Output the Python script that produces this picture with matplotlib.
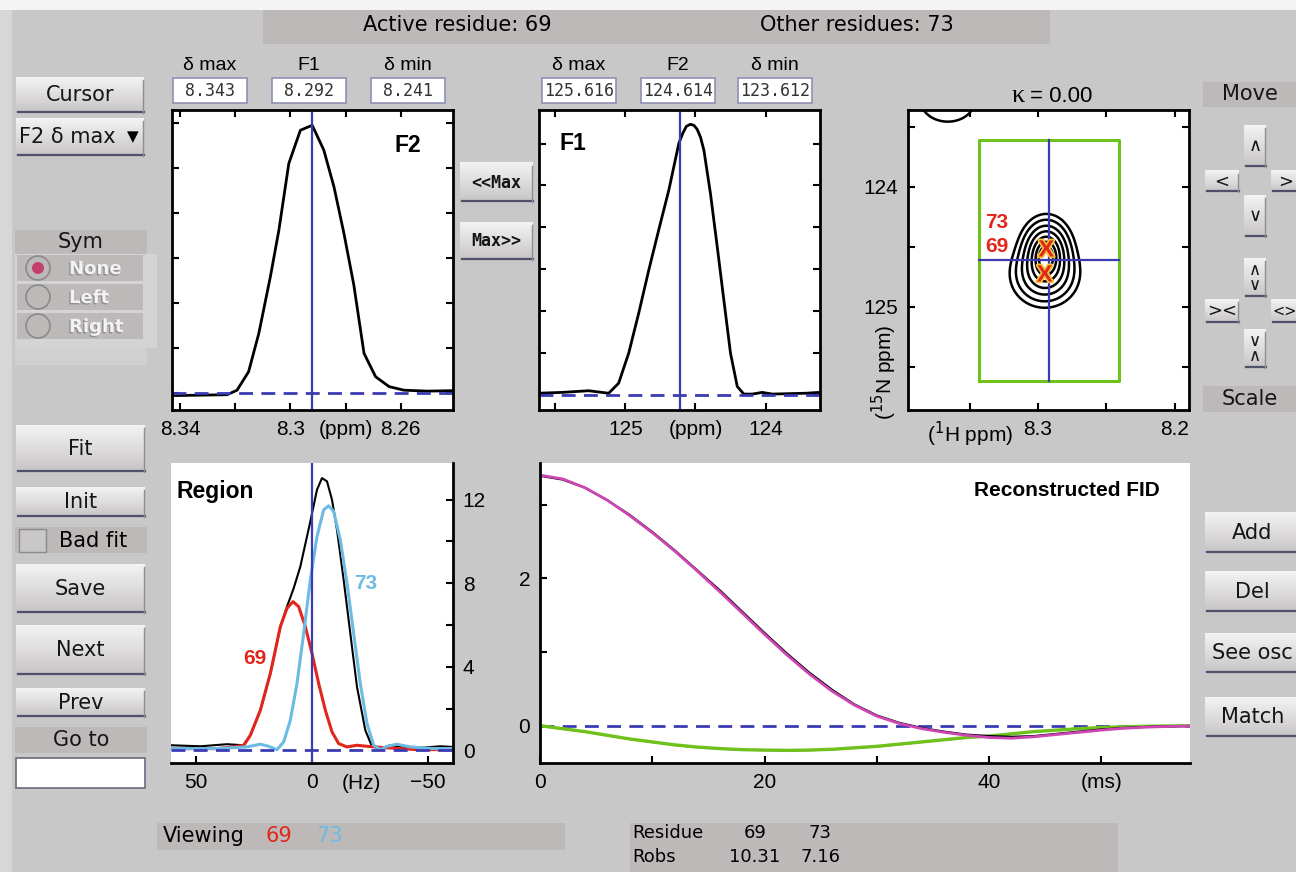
import numpy as np
import matplotlib
matplotlib.use("Agg")
import matplotlib.pyplot as plt
from matplotlib.patches import Rectangle, Circle
from matplotlib.colors import LinearSegmentedColormap
import matplotlib.patheffects as pe

plt.rcParams["font.family"] = ["Liberation Sans", "DejaVu Sans"]

W, H = 1296, 872
BG = "#c8c8c8"
LBL = "#bdb9b8"
BLUE = "#3b3bb3"
RED = "#e2261b"
CYAN = "#6cbbe3"
MAG = "#cf45b4"
LIME = "#6fc21c"
GUI = "DejaVu Sans"

# %% values
active_res = 69
other_res = 73
h_box = [8.343, 8.292, 8.241]        # delta max / cursor / delta min (1H ppm)
n_box = [125.616, 124.614, 123.612]  # delta max / cursor / delta min (15N ppm)
kappa = 0.00
robs = [10.31, 7.16]

# F2 slice (1H), coarse digital points
f2_ppm = [8.3429, 8.3230, 8.3194, 8.3152, 8.3115, 8.3073, 8.3042, 8.3006, 8.2964, 8.2921,
          8.2879, 8.2842, 8.2806, 8.2770, 8.2733, 8.2691, 8.2642, 8.2588, 8.2503, 8.2409]
f2_int = [-0.05, -0.03, 0.07, 0.48, 1.33, 2.59, 3.63, 5.11, 5.85, 5.96,
          5.41, 4.59, 3.56, 2.41, 0.89, 0.37, 0.15, 0.07, 0.05, 0.06]

# F1 slice (15N)
f1_ppm = [125.624, 125.452, 125.262, 125.119, 125.048, 124.976, 124.905, 124.833, 124.762,
          124.690, 124.619, 124.590, 124.565, 124.536, 124.510, 124.488, 124.464, 124.440,
          124.393, 124.345, 124.298, 124.250, 124.202, 124.155, 124.095, 124.024, 123.952,
          123.833, 123.714, 123.619]
f1_int = [0.04, 0.06, 0.10, 0.04, 0.28, 1.00, 1.95, 2.98, 3.94,
          4.89, 6.00, 6.25, 6.41, 6.46, 6.43, 6.34, 6.15, 5.84,
          4.80, 3.54, 2.27, 0.99, 0.20, 0.02, 0.02, 0.06, 0.02,
          0.03, 0.04, 0.06]

# 2D peaks (residue, 1H, 15N, height, width 1H, width 15N)
peak_res = [73, 69, None]
peak_h = [8.2939, 8.2951, 8.366]
peak_n = [124.528, 124.736, 123.275]
peak_amp = [10.0, 6.5, 2.35]
peak_wh = [0.0095, 0.013, 0.0153]
peak_wn = [0.14, 0.14, 0.14]
contour_levels = [1.0, 2.0, 3.6, 5.6, 7.8, 9.8, 11.3]

# Region panel (Hz)
reg_hz = [60.78, 48.13, 36.64, 29.45, 26.58, 22.27, 17.96, 13.65, 10.78, 7.90, 5.03, 0.72,
          -2.16, -4.31, -6.47, -8.62, -10.78, -13.65, -16.52, -19.40, -22.99, -25.86,
          -29.45, -33.76, -39.51, -48.13, -55.32, -60.78]
reg_sum = [0.24, 0.19, 0.29, 0.24, 0.72, 1.92, 3.68, 5.92, 6.88, 7.76, 8.80, 10.96,
           12.48, 13.04, 12.88, 12.00, 10.56, 8.16, 5.60, 3.04, 0.96, 0.19,
           0.08, 0.24, 0.13, 0.13, 0.19, 0.16]
reg69_hz = [60.78, 40.95, 33.76, 29.45, 26.58, 22.27, 17.96, 13.65, 10.78, 8.19, 5.75, 2.87,
            0.0, -2.87, -5.75, -8.62, -11.49, -15.09, -19.40, -23.71, -30.89, -45.26, -60.78]
reg69 = [0.08, 0.08, 0.16, 0.24, 0.72, 1.92, 3.68, 5.92, 6.80, 7.12, 6.88, 5.92,
         4.64, 3.20, 1.92, 0.88, 0.32, 0.16, 0.24, 0.19, 0.13, 0.03, 0.03]
reg73_hz = [60.78, 40.95, 28.02, 22.27, 18.68, 15.09, 12.21, 9.34, 6.47, 3.59, 0.72, -2.16,
            -5.03, -7.18, -9.34, -12.21, -15.09, -17.96, -20.83, -23.71, -26.58, -29.45,
            -32.33, -36.64, -42.39, -52.44, -60.78]
reg73 = [0.08, 0.08, 0.16, 0.29, 0.19, 0.03, 0.40, 1.44, 3.20, 5.60, 8.16, 10.24,
         11.52, 11.71, 11.44, 10.08, 8.00, 5.60, 3.20, 1.28, 0.24, 0.03,
         0.19, 0.29, 0.16, 0.08, 0.08]

# Reconstructed FID (ms)
fid_ms = [0, 2, 4, 6, 8, 10, 12, 14, 16, 18, 20, 22, 24, 26, 28, 30, 32, 34, 36, 38,
          40, 42, 44, 46, 48, 50, 52, 54, 56, 58]
fid_re_obs = [3.39, 3.34, 3.23, 3.06, 2.86, 2.63, 2.38, 2.11, 1.84, 1.55, 1.26, 0.98,
              0.72, 0.49, 0.29, 0.14, 0.04, -0.03, -0.08, -0.12, -0.14, -0.15, -0.14,
              -0.11, -0.08, -0.05, -0.03, -0.015, -0.008, -0.003]
fid_re_fit = [3.40, 3.35, 3.23, 3.06, 2.85, 2.62, 2.37, 2.10, 1.82, 1.53, 1.24, 0.96,
              0.70, 0.47, 0.28, 0.13, 0.03, -0.04, -0.09, -0.13, -0.16, -0.17, -0.15,
              -0.12, -0.09, -0.06, -0.035, -0.02, -0.01, -0.005]
fid_im_obs = [0.0, -0.045, -0.085, -0.135, -0.185, -0.225, -0.265, -0.295, -0.315, -0.33,
              -0.335, -0.34, -0.335, -0.325, -0.305, -0.285, -0.255, -0.225, -0.195, -0.165,
              -0.14, -0.11, -0.08, -0.06, -0.04, -0.025, -0.015, -0.008, -0.003, 0.0]
fid_im_fit = [0.0, -0.04, -0.08, -0.13, -0.18, -0.22, -0.26, -0.29, -0.31, -0.325,
              -0.33, -0.335, -0.33, -0.32, -0.30, -0.28, -0.25, -0.22, -0.19, -0.16,
              -0.14, -0.11, -0.08, -0.06, -0.04, -0.025, -0.015, -0.008, -0.003, 0.0]


# %% canvas + GUI helpers
fig = plt.figure(figsize=(W / 100, H / 100), dpi=100, facecolor=BG)
ui = fig.add_axes([0, 0, 1, 1], zorder=0)
ui.axis("off")

grad = np.linspace(0, 1, 32).reshape(-1, 1)
btn_cmap = LinearSegmentedColormap.from_list("btn", ["#f3f3f3", "#dedcdc", "#c6c4c4"])


def px_axes(x0, y0, x1, y1):
    return fig.add_axes([x0 / W, 1 - y1 / H, (x1 - x0) / W, (y1 - y0) / H], zorder=2)


def box(x0, y0, x1, y1, fc, ec="none", lw=0, z=1):
    ui.add_patch(Rectangle((x0, y0), x1 - x0, y1 - y0, fc=fc, ec=ec, lw=lw, zorder=z))


def button(x0, y0, x1, y1, label, size=15, family=GUI, weight="normal", ha="center", tx=None):
    ui.imshow(grad, extent=(x0, x1, y1, y0), cmap=btn_cmap, aspect="auto",
              interpolation="bilinear", zorder=2)
    ui.plot([x0 + 2, x1], [y1 - 1, y1 - 1], color="#50506a", lw=1.6, zorder=3)
    ui.plot([x1 - 1, x1 - 1], [y0 + 3, y1], color="#8e8e94", lw=1.0, zorder=3)
    if tx is None:
        tx = (x0 + x1) / 2 if ha == "center" else x0 + 3
    ui.text(tx, (y0 + y1) / 2, label, ha=ha, va="center", fontsize=size,
            family=family, weight=weight, color="#151515", zorder=4, linespacing=0.75)


def label_box(x0, y0, x1, y1, label, size=15):
    box(x0, y0, x1, y1, LBL)
    ui.text((x0 + x1) / 2, (y0 + y1) / 2, label, ha="center", va="center",
            fontsize=size, family=GUI, color="#151515", zorder=4)


def value_box(xc, label, value):
    ui.text(xc, 66, label, ha="center", va="center", fontsize=14, zorder=4)
    box(xc - 37, 78, xc + 37, 103, "white", ec="#8f8fb4", lw=1.2)
    ui.text(xc, 91, f"{value:.3f}", ha="center", va="center", fontsize=12,
            family="DejaVu Sans Mono", color="#333333", zorder=4)


# frame strips
box(0, 0, W, 10, "#f4f4f4")
box(0, 10, 12, H, "#d6d8d7")

# status bar
box(263, 10, 1050, 44, LBL)
ui.text(457, 25, f"Active residue: {active_res}", ha="center", va="center", fontsize=15, family=GUI)
ui.text(857, 25, f"Other residues: {other_res}", ha="center", va="center", fontsize=15, family=GUI)

# value boxes
for xc, lab, v in zip([210, 309, 408], ["δ max", "F1", "δ min"], h_box):
    value_box(xc, lab, v)
for xc, lab, v in zip([579, 678, 775], ["δ max", "F2", "δ min"], n_box):
    value_box(xc, lab, v)

# left column
button(16, 77, 144, 113, "Cursor")
button(16, 118, 144, 156, "F2 δ max", ha="left")
ui.text(133, 137, "▼", ha="center", va="center", fontsize=11, family=GUI, zorder=4)

label_box(15, 230, 147, 254, "Sym")
box(15, 254, 157, 348, "#d4d4d4")
box(15, 348, 147, 365, "#d0d0d0")
for yc, name in zip([268, 297, 326], ["None", "Left", "Right"]):
    box(17, yc - 13, 143, yc + 13, LBL, z=2)
    ui.add_patch(Circle((38, yc), 12, fc="none", ec="#8a8a8a", lw=1.2, zorder=3))
    ui.text(69, yc + 1, name, ha="left", va="center", fontsize=13, family=GUI,
            weight="bold", color="#f2f2f2", zorder=4,
            path_effects=[pe.withSimplePatchShadow(offset=(-1, -1), shadow_rgbFace="#8c8c8c", alpha=0.9)])
ui.add_patch(Circle((38, 268), 6, fc="#c2406c", ec="none", zorder=4))

button(16, 425, 145, 472, "Fit")
button(16, 487, 145, 517, "Init")
box(15, 527, 147, 553, LBL)
box(19, 529, 46, 552, "#c9c7c7", ec="#8a8a8a", lw=1)
ui.text(93, 541, "Bad fit", ha="center", va="center", fontsize=15, family=GUI, zorder=4)
button(16, 564, 145, 613, "Save")
button(16, 625, 145, 675, "Next")
button(16, 688, 145, 717, "Prev")
label_box(15, 727, 147, 753, "Go to")
box(16, 758, 145, 788, "white", ec="#6a6a80", lw=1.2)

# <<Max / Max>>
button(460, 163, 533, 202, "<<Max", size=12, family="DejaVu Sans Mono", weight="bold")
button(460, 222, 533, 260, "Max>>", size=12, family="DejaVu Sans Mono", weight="bold")

# right column
label_box(1203, 82, 1296, 107, "Move")
button(1244, 125, 1266, 167, "∧", size=13)
button(1205, 171, 1239, 192, "<", size=13)
button(1271, 171, 1300, 192, ">", size=13, ha="left", tx=1278)
button(1244, 195, 1266, 237, "∨", size=13)
button(1244, 258, 1266, 297, "∧\n∨", size=12)
button(1205, 299, 1239, 323, "><", size=13)
button(1271, 299, 1300, 323, "<>", size=10.5, ha="left", tx=1272)
button(1244, 329, 1266, 368, "∨\n∧", size=12)
label_box(1203, 386, 1296, 412, "Scale")

button(1205, 512, 1300, 553, "Add", size=15)
button(1205, 571, 1300, 612, "Del", size=15)
button(1205, 633, 1300, 673, "See osc", size=15)
button(1205, 697, 1300, 737, "Match", size=15)

# bottom info
box(157, 823, 565, 850, LBL)
ui.text(163, 836, "Viewing", ha="left", va="center", fontsize=15, family=GUI)
ui.text(279, 836, str(peak_res[1]), ha="center", va="center", fontsize=15, family=GUI, color=RED)
ui.text(329, 836, str(peak_res[0]), ha="center", va="center", fontsize=15, family=GUI, color=CYAN)
box(630, 823, 1118, 872, LBL)
ui.text(632, 833, "Residue", ha="left", va="center", fontsize=13, family=GUI)
ui.text(632, 857, "Robs", ha="left", va="center", fontsize=13, family=GUI)
for xc, r, v in zip([755, 820], [peak_res[1], peak_res[0]], robs):
    ui.text(xc, 833, str(r), ha="center", va="center", fontsize=13, family=GUI)
    ui.text(xc, 857, f"{v:.2f}", ha="center", va="center", fontsize=13, family=GUI)

# κ title and axis captions
ui.text(1018, 96, "κ", ha="center", va="center", fontsize=19, family="Liberation Serif")
ui.text(1030, 96, f"= {kappa:.2f}", ha="left", va="center", fontsize=16)
ui.text(884, 372, "($^{15}$N ppm)", ha="center", va="center", fontsize=15, rotation=90)
ui.text(361, 783, "(Hz)", ha="center", va="center", fontsize=15)

ui.set_xlim(0, W)
ui.set_ylim(H, 0)


def frame(ax, sides=("left", "right", "top", "bottom")):
    for s, sp in ax.spines.items():
        sp.set_visible(s in sides)
        sp.set_linewidth(2)
    ax.set_facecolor("white")


tick_kw = dict(direction="in", length=5, width=1.5, labelsize=15, pad=7)

# %% F2 slice
ax = px_axes(172, 110, 453, 410)
frame(ax)
ax.plot(f2_ppm, f2_int, color="black", lw=2)
ax.axvline(h_box[1], color=BLUE, lw=1.6)
ax.axhline(0, color=BLUE, lw=2, ls=(0, (5, 3)))
ax.set_xlim(h_box[0], h_box[2])
ax.set_ylim(-0.37, 6.3)
ax.set_xticks([8.34, 8.32, 8.30, 8.28, 8.26])
ax.set_xticklabels(["8.34", "", "8.3", "(ppm)", "8.26"])
ax.set_yticks(range(7))
ax.set_yticklabels([])
ax.tick_params(top=True, right=True, **tick_kw)
ax.text(0.84, 0.88, "F2", transform=ax.transAxes, ha="center", va="center",
        fontsize=16.5, weight="bold")

# %% F1 slice
ax = px_axes(539, 110, 820, 410)
frame(ax)
ax.plot(f1_ppm, f1_int, color="black", lw=2)
ax.axvline(n_box[1], color=BLUE, lw=1.6)
ax.axhline(0, color=BLUE, lw=2, ls=(0, (5, 3)))
ax.set_xlim(n_box[0], n_box[2])
ax.set_ylim(-0.36, 6.8)
ax.set_xticks([125.5, 125.0, 124.5, 124.0])
ax.set_xticklabels(["", "125", "(ppm)", "124"])
ax.set_yticks(range(7))
ax.set_yticklabels([])
ax.tick_params(top=True, right=True, **tick_kw)
ax.text(0.12, 0.89, "F1", transform=ax.transAxes, ha="center", va="center",
        fontsize=16.5, weight="bold")

# %% 2D contour view
ax = px_axes(908, 110, 1189, 410)
frame(ax)
hh, nn = np.meshgrid(np.linspace(8.18, 8.40, 400), np.linspace(123.0, 125.9, 400))
zz = np.zeros_like(hh)
for ph, pn, a, wh, wn in zip(peak_h, peak_n, peak_amp, peak_wh, peak_wn):
    zz += a * np.exp(-0.5 * ((hh - ph) / wh) ** 2 - 0.5 * ((nn - pn) / wn) ** 2)
ax.contour(hh, nn, zz, levels=contour_levels, colors="black", linewidths=1.8)
ax.plot([h_box[0], h_box[2], h_box[2], h_box[0], h_box[0]],
        [n_box[0], n_box[0], n_box[2], n_box[2], n_box[0]], color=LIME, lw=2.2)
ax.plot([h_box[1], h_box[1]], [n_box[0], n_box[2]], color=BLUE, lw=1.6)
ax.plot([h_box[0], h_box[2]], [n_box[1], n_box[1]], color=BLUE, lw=1.6)
for r, ph, pn in zip(peak_res[:2], peak_h[:2], peak_n[:2]):
    ax.text(ph, pn, "X", color=RED, fontsize=17, weight="bold", ha="center", va="center",
            path_effects=[pe.withStroke(linewidth=2.5, foreground="#f5c23a")])
ax.text(8.3304, 124.30, str(peak_res[0]), color=RED, fontsize=15, weight="bold",
        ha="center", va="center")
ax.text(8.3304, 124.50, str(peak_res[1]), color=RED, fontsize=15, weight="bold",
        ha="center", va="center")
ax.set_xlim(8.3951, 8.1895)
ax.set_ylim(125.861, 123.361)
ax.set_xticks([8.35, 8.30, 8.25, 8.20])
ax.set_xticklabels(["($^{1}$H ppm)", "8.3", "", "8.2"])
ax.set_yticks([123.5, 124.0, 124.5, 125.0, 125.5])
ax.set_yticklabels(["", "124", "", "125", ""])
ax.tick_params(top=True, right=True, **tick_kw)

# %% Region panel
ax = px_axes(171, 463, 453, 763)
frame(ax, sides=("right", "bottom"))
ax.plot(reg_hz, reg_sum, color="black", lw=1.5)
ax.plot(reg69_hz, reg69, color=RED, lw=2.2)
ax.plot(reg73_hz, reg73, color=CYAN, lw=2.2)
ax.axvline(0, color=BLUE, lw=1.6)
ax.axhline(0, color=BLUE, lw=2, ls=(0, (5, 3)))
ax.set_xlim(60.8, -60.8)
ax.set_ylim(-0.61, 13.76)
ax.set_xticks([50, 0, -50])
ax.set_xticklabels(["50", "0", "−50"])
ax.set_yticks(range(0, 13, 2))
ax.set_yticklabels(["0", "", "4", "", "8", "", "12"])
ax.yaxis.tick_right()
ax.tick_params(**tick_kw)
ax.text(0.02, 0.905, "Region", transform=ax.transAxes, ha="left", va="center",
        fontsize=16.5, weight="bold")
ax.text(24.5, 4.4, str(peak_res[1]), color=RED, fontsize=15, weight="bold", ha="center", va="center")
ax.text(-23.3, 8.0, str(peak_res[0]), color=CYAN, fontsize=15, weight="bold", ha="center", va="center")

# %% Reconstructed FID
ax = px_axes(540, 463, 1190, 763)
frame(ax, sides=("left", "bottom"))
ax.plot(fid_ms, fid_im_obs, color="#8a3a1c", lw=1.2)
ax.plot(fid_ms, fid_im_fit, color=LIME, lw=2.4)
ax.plot(fid_ms, fid_re_obs, color="black", lw=1.5)
ax.plot(fid_ms, fid_re_fit, color=MAG, lw=2.0)
ax.axhline(0, color=BLUE, lw=2, ls=(0, (5, 3)), zorder=1)
ax.set_xlim(0, 57.9)
ax.set_ylim(-0.506, 3.565)
ax.set_xticks(range(0, 51, 10))
ax.set_xticklabels(["0", "", "20", "", "40", "(ms)"])
ax.set_yticks([0, 1, 2, 3])
ax.set_yticklabels(["0", "", "2", ""])
ax.tick_params(**tick_kw)
ax.text(0.81, 0.91, "Reconstructed FID", transform=ax.transAxes, ha="center", va="center",
        fontsize=15, weight="bold")

fig.savefig("out.png", dpi=100, facecolor=BG)
